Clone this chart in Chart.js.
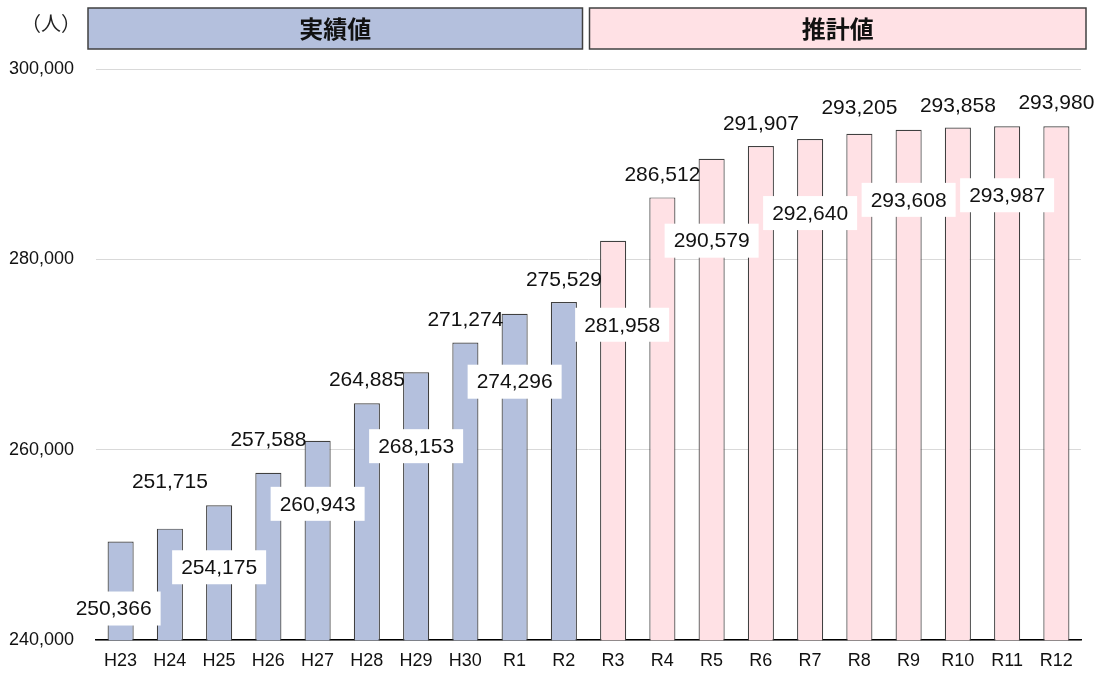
<!doctype html>
<html>
<head>
  <meta charset="utf-8">
  <script src="https://cdn.jsdelivr.net/npm/chart.js@4/dist/chart.umd.min.js"></script>
  <style>
    html, body { margin: 0; padding: 0; background: #fff; }
    #wrap { width: 1101px; height: 673px; }
  </style>
</head>
<body>
  <div id="wrap"><canvas id="canvas" width="1101" height="673"></canvas></div>
  <script>
    const categories = ['H23', 'H24', 'H25', 'H26', 'H27', 'H28', 'H29', 'H30', 'R1', 'R2',
      'R3', 'R4', 'R5', 'R6', 'R7', 'R8', 'R9', 'R10', 'R11', 'R12'];
    const population = [250366, 251715, 254175, 257588, 260943, 264885, 268153, 271274, 274296, 275529,
      281958, 286512, 290579, 291907, 292640, 293205, 293608, 293858, 293987, 293980];
    const actualCount = 10; // H23..R2 are actual, the rest are estimates
    const yTicks = [240000, 260000, 280000, 300000];

    // label placement relative to the bar top (px)
    const labelDy = [67, -47, 62, -34, 63, -24, 74, -23, 68, -23, 84, -23, 82, -23, 74, -26, 70, -22, 69, -24];
    const labelDx = [-7, 0, 0, 0, 0, 0, 0, 0, 0, 0, 9, 0, 0, 0, 0, 0, 0, 0, 0, 0];

    const blueFill = '#b4c0dd';
    const pinkFill = '#ffe1e5';
    const edge = '#404040';

    const labelPlugin = {
      id: 'valueLabels',
      afterDatasetsDraw(chart) {
        const ctx = chart.ctx;
        const meta = chart.getDatasetMeta(0);
        ctx.save();
        ctx.font = '21px "Liberation Sans", Arial, sans-serif';
        ctx.textAlign = 'center';
        ctx.textBaseline = 'middle';
        meta.data.forEach((bar, i) => {
          const text = population[i].toLocaleString('en-US');
          const x = bar.x + labelDx[i];
          const y = bar.y + labelDy[i];
          if (labelDy[i] > 0) {
            ctx.fillStyle = '#fff';
            ctx.fillRect(x - 47, y - 17, 94, 34);
          }
          ctx.fillStyle = '#111';
          ctx.fillText(text, x, y + 1);
        });
        ctx.restore();
      }
    };

    const headerPlugin = {
      id: 'headers',
      afterDraw(chart) {
        const ctx = chart.ctx;
        const xs = chart.scales.x;
        const area = chart.chartArea;
        const split = (xs.getPixelForValue(actualCount - 1) + xs.getPixelForValue(actualCount)) / 2;
        const top = 8, h = 41;
        ctx.save();
        ctx.lineWidth = 1.5;
        ctx.strokeStyle = edge;
        ctx.fillStyle = blueFill;
        ctx.fillRect(area.left - 8, top, split - 6 - (area.left - 8), h);
        ctx.strokeRect(area.left - 8, top, split - 6 - (area.left - 8), h);
        ctx.fillStyle = pinkFill;
        ctx.fillRect(split + 1, top, area.right + 5 - (split + 1), h);
        ctx.strokeRect(split + 1, top, area.right + 5 - (split + 1), h);
        ctx.fillStyle = '#111';
        ctx.font = 'bold 24px "Noto Sans CJK JP", sans-serif';
        ctx.textAlign = 'center';
        ctx.textBaseline = 'middle';
        ctx.fillText('実績値', (area.left - 8 + split - 6) / 2, top + h / 2);
        ctx.fillText('推計値', (split + 1 + area.right + 5) / 2, top + h / 2);
        ctx.font = '20px "Noto Sans CJK JP", sans-serif';
        ctx.fillStyle = '#222';
        ctx.fillText('（人）', 51, 23);
        ctx.restore();
      }
    };

    new Chart(document.getElementById('canvas'), {
      type: 'bar',
      data: {
        labels: categories,
        datasets: [{
          data: population,
          backgroundColor: population.map((v, i) => i < actualCount ? blueFill : pinkFill),
          borderColor: edge,
          borderWidth: 1.2,
          barPercentage: 0.53,
          categoryPercentage: 1
        }]
      },
      options: {
        responsive: false,
        animation: false,
        layout: { padding: { top: 69, right: 20, bottom: 0, left: 0 } },
        plugins: { legend: { display: false }, tooltip: { enabled: false } },
        scales: {
          x: {
            grid: { display: false, drawTicks: false },
            border: { display: true, color: '#000', width: 1.5 },
            ticks: { color: '#111', font: { family: '"Liberation Sans", Arial', size: 18 }, padding: 10, maxRotation: 0 },
            afterFit(scale) { scale.height = 29; }
          },
          y: {
            min: 240000,
            max: 300000,
            afterBuildTicks(scale) { scale.ticks = yTicks.map(v => ({ value: v })); },
            grid: { color: '#d9d9d9', lineWidth: 1, drawTicks: false },
            border: { display: false },
            ticks: {
              color: '#111',
              font: { family: '"Liberation Sans", Arial', size: 18 },
              padding: 22,
              callback: v => v.toLocaleString('en-US')
            },
            afterFit(scale) { scale.width = 96; }
          }
        }
      },
      plugins: [labelPlugin, headerPlugin]
    });
  </script>
</body>
</html>
